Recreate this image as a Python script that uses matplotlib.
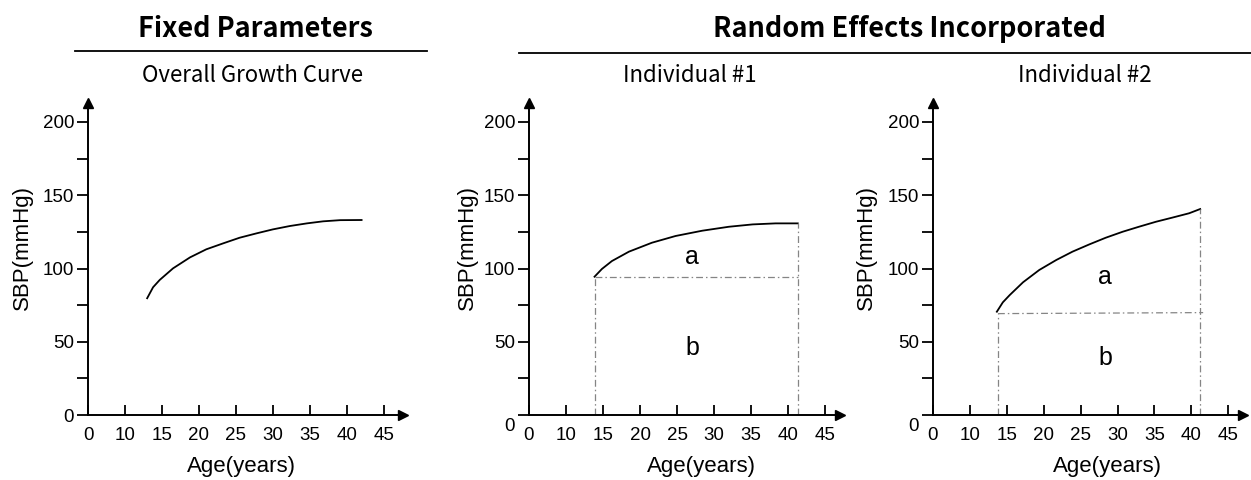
import matplotlib
matplotlib.use("Agg")
import matplotlib.pyplot as plt
from matplotlib.lines import Line2D
from matplotlib.transforms import ScaledTranslation

# data (ages in years, SBP in mmHg)
age_overall = [13.0, 13.8, 14.7, 16.5, 18.8, 21.0, 23.3, 25.5, 27.8, 30.0, 32.3, 34.6, 36.8, 39.1, 42.0]
sbp_overall = [79.7, 87.2, 92.2, 100.1, 107.6, 113.1, 117.2, 121.0, 124.0, 126.7, 129.0, 130.8, 132.2, 133.0, 133.1]

age_ind1 = [13.85, 14.85, 16.2, 18.5, 21.6, 24.8, 28.4, 32.0, 35.2, 38.3, 41.3]
sbp_ind1 = [94.4, 99.7, 105.1, 111.5, 117.6, 122.2, 125.8, 128.5, 130.1, 130.8, 130.8]
base_ind1_x = [13.85, 41.3]
base_ind1_y = [94.4, 94.4]

age_ind2 = [13.65, 14.46, 15.4, 17.2, 19.4, 21.7, 23.9, 26.2, 28.4, 30.7, 32.9, 35.2, 37.4, 39.7, 41.2]
sbp_ind2 = [70.5, 76.9, 81.9, 90.6, 99.0, 105.8, 111.5, 116.5, 121.0, 125.1, 128.5, 131.9, 134.7, 137.7, 140.6]
base_ind2_x = [13.8, 41.6]
base_ind2_y = [69.2, 69.9]

x_ticks = [5, 10, 15, 20, 25, 30, 35, 40, 45]
x_ticklabels = ["0", "10", "15", "20", "25", "30", "35", "40", "45"]
y_major = [0, 50, 100, 150, 200]
y_minor = [25, 75, 125, 175]

W, H = 1251, 480
fig = plt.figure(figsize=(W / 100, H / 100), dpi=100)

tick_font = "Liberation Sans"
head_font = ["Noto Sans CJK SC", "DejaVu Sans"]

# panel geometry in pixels: left, width, label offsets
panels = [
    dict(left=88, width=315, xmax=47.6, ylab_dx=-55, xlab_cx=241,
         age=age_overall, sbp=sbp_overall, base=None, zero_low=False),
    dict(left=529, width=311, xmax=47.0, ylab_dx=-51, xlab_cx=701,
         age=age_ind1, sbp=sbp_ind1, base=(base_ind1_x, base_ind1_y),
         a_pos=(27.0, 108), b_pos=(27.0, 46), zero_low=True),
    dict(left=933, width=310, xmax=47.0, ylab_dx=-56, xlab_cx=1107,
         age=age_ind2, sbp=sbp_ind2, base=(base_ind2_x, base_ind2_y),
         a_pos=(28.3, 94), b_pos=(28.3, 39), zero_low=True),
]

bottom_px = 415
height_px = 312
ymax = height_px / 1.465

for p in panels:
    ax = fig.add_axes([p["left"] / W, (H - bottom_px) / H, p["width"] / W, height_px / H])
    ax.set_xlim(5, p["xmax"])
    ax.set_ylim(0, ymax)
    ax.patch.set_alpha(0)

    for s in ["top", "right"]:
        ax.spines[s].set_visible(False)
    for s in ["left", "bottom"]:
        ax.spines[s].set_linewidth(1.4)
        ax.spines[s].set_color("black")

    # arrow heads
    ax.plot(0, 1, marker="^", color="black", markersize=7, transform=ax.transAxes, clip_on=False)
    ax.plot(1, 0, marker=">", color="black", markersize=7, transform=ax.transAxes, clip_on=False)

    ax.set_xticks(x_ticks)
    ax.set_xticklabels(x_ticklabels)
    ax.set_yticks(y_major)
    ax.set_yticks(y_minor, minor=True)
    ax.tick_params(axis="x", direction="in", length=7, width=1.3, pad=8.5, labelsize=13.5)
    ax.tick_params(axis="y", which="both", direction="out", length=8, width=1.3, pad=2, labelsize=13.5)
    for lbl in ax.get_xticklabels() + ax.get_yticklabels():
        lbl.set_fontfamily(tick_font)

    # the "0" on the y axis sits a little lower in the individual panels
    if p["zero_low"]:
        zl = ax.get_yticklabels()[0]
        zl.set_transform(zl.get_transform() + ScaledTranslation(0, -7 / 72, fig.dpi_scale_trans))

    ax.set_ylabel("SBP(mmHg)", fontsize=16, fontfamily=tick_font)
    ax.set_xlabel("Age(years)", fontsize=16, fontfamily=tick_font)
    ax.yaxis.set_label_coords(p["ylab_dx"] / p["width"], (bottom_px - 248) / height_px)
    ax.xaxis.set_label_coords((p["xlab_cx"] - p["left"]) / p["width"], -41 / height_px)

    ax.plot(p["age"], p["sbp"], color="black", linewidth=1.3, solid_joinstyle="round")

    if p["base"] is not None:
        bx, by = p["base"]
        dash = dict(color="#858585", linewidth=0.9, linestyle=(0, (5.5, 2.4, 1.2, 2.4)))
        ax.plot(bx, by, **dash)
        ax.plot([bx[0], bx[0]], [0, by[0]], **dash)
        ax.plot([p["age"][-1], p["age"][-1]], [0, p["sbp"][-1]], **dash)
        ax.text(*p["a_pos"], "a", fontsize=18, fontfamily=tick_font, ha="center", va="center")
        ax.text(*p["b_pos"], "b", fontsize=18, fontfamily=tick_font, ha="center", va="center")

# headings and rules
fig.text(255 / W, 1 - 37 / H, "Fixed Parameters", fontsize=19.5, fontweight="bold",
         fontfamily=head_font, ha="center", va="baseline")
fig.text(909 / W, 1 - 37 / H, "Random Effects Incorporated", fontsize=19.5, fontweight="bold",
         fontfamily=head_font, ha="center", va="baseline")
fig.add_artist(Line2D([75 / W, 427 / W], [1 - 51 / H, 1 - 51 / H], color="black", linewidth=1.3))
fig.add_artist(Line2D([519 / W, 1.0], [1 - 53 / H, 1 - 53 / H], color="black", linewidth=1.3))

fig.text(253 / W, 1 - 82 / H, "Overall Growth Curve", fontsize=16, fontweight="medium",
         fontfamily=head_font, ha="center", va="baseline")
fig.text(690 / W, 1 - 82 / H, "Individual #1", fontsize=16, fontweight="medium",
         fontfamily=head_font, ha="center", va="baseline")
fig.text(1085 / W, 1 - 82 / H, "Individual #2", fontsize=16, fontweight="medium",
         fontfamily=head_font, ha="center", va="baseline")

fig.savefig("out.png", dpi=100, facecolor="white")
